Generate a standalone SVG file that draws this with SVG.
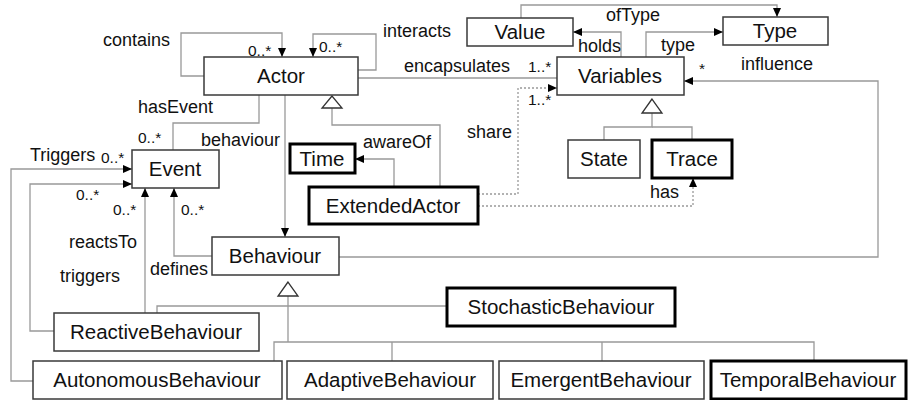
<svg xmlns="http://www.w3.org/2000/svg" width="908" height="400" viewBox="0 0 908 400">
<style>
.box{fill:#fff;stroke:#3a3a3a;stroke-width:1.5}
.thick{fill:#fff;stroke:#000;stroke-width:3}
.nt{font-family:"Liberation Sans",Arial,sans-serif;font-size:20.5px;fill:#111;text-anchor:middle}
.lb{font-family:"Liberation Sans",Arial,sans-serif;font-size:18px;fill:#111}
.mu{font-family:"Liberation Sans",Arial,sans-serif;font-size:15.5px;fill:#111}
.c{fill:none;stroke:#999;stroke-width:1.3}
.a{marker-end:url(#arr)}
.d{stroke-dasharray:2,2}
.tri{fill:#fff;stroke:#333;stroke-width:1.3}
</style>
<defs>
<marker id="arr" markerUnits="userSpaceOnUse" markerWidth="10" markerHeight="10" refX="9" refY="4" orient="auto">
<path d="M0,0 L9,4 L0,8 z" fill="#000"/>
</marker>
</defs>
<g id="connectors">
<path class="c a" d="M204,76 H181 V33 H282 V57"/>
<path class="c a" d="M358,70 H376 V34 H313 V57"/>
<path class="c" d="M358,78 H557"/>
<path class="c" d="M332,108 V125 H440 V187"/>
<polygon class="tri" points="332,96 322,108 342,108"/>
<path class="c" d="M259,95 V123 H173 V150"/>
<path class="c a" d="M285,95 V237"/>
<path class="c a" d="M394,187 V159 H355"/>
<path class="c a" d="M33,381 H11 V169 H132"/>
<path class="c a" d="M54,331 H30 V184 H132"/>
<path class="c a" d="M145,313 V188"/>
<path class="c a" d="M212,256 H174 V188"/>
<path class="c" d="M157,313 V306 H447"/>
<path class="c" d="M288,296 V342"/>
<path class="c" d="M274,361 V342 H814 V361"/>
<path class="c" d="M392,342 V361"/>
<path class="c" d="M602,342 V361"/>
<polygon class="tri" points="288,282 278,296 298,296"/>
<path class="c" d="M652,113 V127 H604 V140"/>
<path class="c" d="M652,127 H692 V140"/>
<polygon class="tri" points="652,99 642,113 662,113"/>
<path class="c a" d="M521,18 V5 H777 V17"/>
<path class="c a" d="M621,57 V32 H573"/>
<path class="c a" d="M646,57 V32 H723"/>
<path class="c a" d="M339,257 H878 V81 H684"/>
<path class="c a d" d="M478,194 H518 V88 H557"/>
<path class="c a d" d="M478,206 H693 V178"/>
</g>
<g id="labels">
<text class="lb" x="103" y="46">contains</text>
<text class="mu" x="248" y="56">0..*</text>
<text class="lb" x="383" y="37">interacts</text>
<text class="mu" x="319" y="52">0..*</text>
<text class="lb" x="404" y="72">encapsulates</text>
<text class="mu" x="528" y="72">1..*</text>
<text class="lb" x="138" y="113">hasEvent</text>
<text class="mu" x="138" y="143">0..*</text>
<text class="lb" x="201" y="146">behaviour</text>
<text class="lb" x="30" y="161">Triggers</text>
<text class="mu" x="101" y="163">0..*</text>
<text class="mu" x="76" y="200">0..*</text>
<text class="mu" x="113" y="215">0..*</text>
<text class="mu" x="181" y="215">0..*</text>
<text class="lb" x="69" y="248">reactsTo</text>
<text class="lb" x="60" y="282">triggers</text>
<text class="lb" x="150" y="275">defines</text>
<text class="lb" x="363" y="148">awareOf</text>
<text class="lb" x="467" y="138">share</text>
<text class="mu" x="528" y="105">1..*</text>
<text class="lb" x="606" y="21">ofType</text>
<text class="lb" x="578" y="52">holds</text>
<text class="lb" x="661" y="51">type</text>
<text class="mu" x="699" y="74">*</text>
<text class="lb" x="741" y="70">influence</text>
<text class="lb" x="650" y="198">has</text>
</g>
<g id="Actor"><rect class="box" x="204" y="57" width="154" height="38"/><text class="nt" x="281" y="83">Actor</text></g>
<g id="Value"><rect class="box" x="467" y="18" width="106" height="28"/><text class="nt" x="520" y="39">Value</text></g>
<g id="Type"><rect class="box" x="723" y="17" width="105" height="28"/><text class="nt" x="775" y="38">Type</text></g>
<g id="Variables"><rect class="box" x="557" y="57" width="127" height="38"/><text class="nt" x="620" y="83">Variables</text></g>
<g id="Event"><rect class="box" x="132" y="150" width="87" height="38"/><text class="nt" x="175" y="176">Event</text></g>
<g id="Time"><rect class="thick" x="290" y="144" width="65" height="29"/><text class="nt" x="322" y="166">Time</text></g>
<g id="ExtendedActor"><rect class="thick" x="309" y="187" width="169" height="37"/><text class="nt" x="393" y="213">ExtendedActor</text></g>
<g id="State"><rect class="box" x="568" y="140" width="72" height="38"/><text class="nt" x="604" y="166">State</text></g>
<g id="Trace"><rect class="thick" x="652" y="140" width="80" height="38"/><text class="nt" x="692" y="166">Trace</text></g>
<g id="Behaviour"><rect class="box" x="212" y="237" width="127" height="38"/><text class="nt" x="275" y="263">Behaviour</text></g>
<g id="ReactiveBehaviour"><rect class="box" x="54" y="313" width="205" height="38"/><text class="nt" x="156" y="339">ReactiveBehaviour</text></g>
<g id="StochasticBehaviour"><rect class="thick" x="447" y="288" width="228" height="38"/><text class="nt" x="561" y="314">StochasticBehaviour</text></g>
<g id="AutonomousBehaviour"><rect class="box" x="33" y="361" width="249" height="38"/><text class="nt" x="157" y="387">AutonomousBehaviour</text></g>
<g id="AdaptiveBehaviour"><rect class="box" x="287" y="361" width="206" height="38"/><text class="nt" x="390" y="387">AdaptiveBehaviour</text></g>
<g id="EmergentBehaviour"><rect class="box" x="499" y="361" width="205" height="38"/><text class="nt" x="601" y="387">EmergentBehaviour</text></g>
<g id="TemporalBehaviour"><rect class="thick" x="711" y="361" width="195" height="38"/><text class="nt" x="808" y="387">TemporalBehaviour</text></g>
</svg>
